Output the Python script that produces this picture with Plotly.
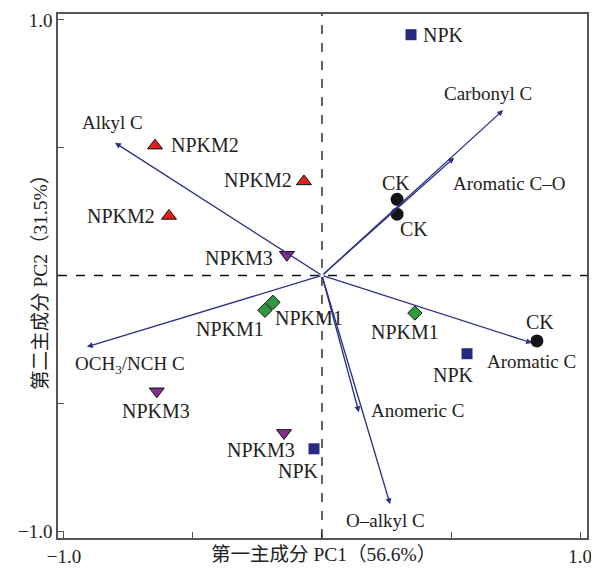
import plotly.graph_objects as go

# ---- sample scores ----
npk_x = [0.345, 0.562, -0.031]
npk_y = [0.942, -0.306, -0.678]
ck_x = [0.291, 0.291, 0.833]
ck_y = [0.298, 0.240, -0.256]
npkm1_x = [-0.221, -0.190, 0.360]
npkm1_y = [-0.136, -0.105, -0.147]
npkm2_x = [-0.647, -0.070, -0.593]
npkm2_y = [0.508, 0.368, 0.233]
npkm3_x = [-0.136, -0.640, -0.147]
npkm3_y = [0.081, -0.453, -0.616]

# ---- loadings ----
load_names = ["Alkyl C", "Carbonyl C", "Aromatic C–O", "Aromatic C",
              "OCH<sub>3</sub>/NCH C", "Anomeric C", "O–alkyl C"]
load_x = [-0.802, 0.702, 0.512, 0.814, -0.911, 0.143, 0.264]
load_y = [0.519, 0.647, 0.461, -0.264, -0.279, -0.535, -0.895]

x_tick_vals = [-1.0, -0.5, 0.0, 0.5, 1.0]
y_tick_vals = [-1.0, -0.5, 0.0, 0.5, 1.0]
tick_text = ["−1.0", "", "", "", "1.0"]
x_title = "第一主成分 PC1（56.6%）"
y_title = "第二主成分 PC2（31.5%）"

FONT = "Liberation Serif, Noto Sans CJK SC, serif"
FS = 20
TXT = "#222222"
NAVY = "#2b2f86"

fig = go.Figure()

groups = [
    ("NPK", npk_x, npk_y, dict(symbol="square", size=11, color="#252a7e", line=dict(width=0))),
    ("CK", ck_x, ck_y, dict(symbol="circle", size=13, color="#141414", line=dict(width=0))),
    ("NPKM1", npkm1_x, npkm1_y, dict(symbol="diamond", size=11, color="#2f9a40", line=dict(width=1, color="#111"))),
    ("NPKM2", npkm2_x, npkm2_y, dict(symbol="triangle-up", size=13, color="#e0201c", line=dict(width=1, color="#111"))),
    ("NPKM3", npkm3_x, npkm3_y, dict(symbol="triangle-down", size=13, color="#8a2b8f", line=dict(width=1, color="#111"))),
]
for name, xs, ys, mk in groups:
    fig.add_trace(go.Scatter(x=xs, y=ys, mode="markers", marker=mk, name=name,
                             showlegend=False, hoverinfo="skip"))

annotations = []
label_style = {
    "NPK": [(10, 0, "left"), (-14, -21, "center"), (-15, -22, "center")],
    "CK": [(-1, 16, "center"), (17, -15, "center"), (3, 19, "center")],
    "NPKM1": [(-35, -19, "center"), (36, -16, "center"), (-10, -19, "center")],
    "NPKM2": [(14, 1, "left"), (-10, 1, "right"), (-12, 0, "right")],
    "NPKM3": [(-12, -3, "right"), (-1, -20, "center"), (-23, -17, "center")],
}
for name, xs, ys, mk in groups:
    for (xx, yy), (dx, dy, anc) in zip(zip(xs, ys), label_style[name]):
        annotations.append(dict(x=xx, y=yy, xref="x", yref="y", text=name, showarrow=False,
                                xshift=dx, yshift=dy, xanchor=anc,
                                font=dict(family=FONT, size=FS, color=TXT)))

for lx, ly in zip(load_x, load_y):
    annotations.append(dict(x=lx, y=ly, ax=0, ay=0, xref="x", yref="y", axref="x", ayref="y",
                            text="", showarrow=True, arrowhead=2, arrowsize=0.9,
                            arrowwidth=1.3, arrowcolor=NAVY))
load_shift = [(-3, 20), (-15, 17), (55, -26), (-1, -19), (43, -18), (59, 2), (-5, -16)]
for nm, lx, ly, (dx, dy) in zip(load_names, load_x, load_y, load_shift):
    annotations.append(dict(x=lx, y=ly, xref="x", yref="y", text=nm, showarrow=False,
                            xshift=dx, yshift=dy,
                            font=dict(family=FONT, size=19, color=TXT)))

annotations.append(dict(x=0.5, y=0, xref="paper", yref="paper", yshift=-16, xshift=1,
                        text=x_title, showarrow=False, yanchor="middle",
                        font=dict(family=FONT, size=19.5, color=TXT)))
annotations.append(dict(x=0, y=0.5, xref="paper", yref="paper", xshift=-18, yshift=-2,
                        text=y_title, showarrow=False, textangle=-90, xanchor="center",
                        font=dict(family=FONT, size=19.5, color=TXT)))

shapes = [
    dict(type="line", xref="x", yref="paper", x0=0, x1=0, y0=0, y1=1,
         line=dict(color="#111", width=1.3, dash="dash")),
    dict(type="line", xref="paper", yref="y", x0=0, x1=1, y0=0, y1=0,
         line=dict(color="#111", width=1.3, dash="dash")),
]

axis_common = dict(showgrid=False, zeroline=False, showline=True, mirror=True,
                   linecolor="#555", linewidth=1.6, ticks="inside", ticklen=6,
                   tickcolor="#555", tickwidth=1.3, ticklabeloverflow="allow",
                   tickfont=dict(family=FONT, size=19, color=TXT))

# the page body adds an 8px offset, so the figure is drawn 8px smaller
fig.update_layout(
    width=591, height=561,
    margin=dict(l=50, r=12, t=2, b=22),
    paper_bgcolor="white", plot_bgcolor="white",
    xaxis=dict(range=[-1.023, 1.027], tickvals=x_tick_vals, ticktext=tick_text, **axis_common),
    yaxis=dict(range=[-1.027, 1.023], tickvals=y_tick_vals, ticktext=tick_text, **axis_common),
    annotations=annotations, shapes=shapes,
)

fig.write_html("out.html")
